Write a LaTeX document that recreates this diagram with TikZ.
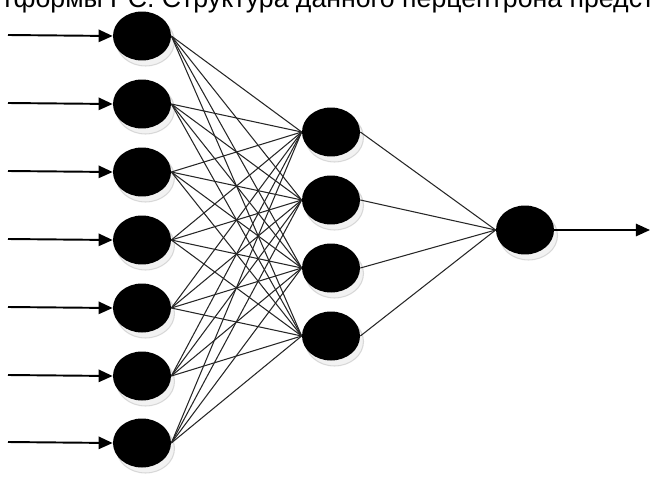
\documentclass[tikz,border=0pt]{standalone}
\usepackage{fontspec}
\setmainfont{Liberation Sans}
\usetikzlibrary{arrows.meta,shapes.geometric,shadows}

\begin{document}
\begin{tikzpicture}[x=0.02cm,y=-0.02cm,
    neuron/.style={ellipse, fill=black, minimum width=1.16cm, minimum height=0.98cm, inner sep=0pt,
      drop shadow={shadow xshift=0.07cm, shadow yshift=-0.11cm, fill=gray!20, draw=gray!55, line width=0.6pt}},
    link/.style={draw=black!85, line width=0.6pt},
    feed/.style={-{Triangle[length=8pt,width=7pt]}, line width=1.1pt}]
    \useasboundingbox (0,0) rectangle (651,483);
    \clip (0,0) rectangle (651,483);
    \node[anchor=base west, inner sep=0pt, font=\fontsize{15.2pt}{18pt}\selectfont] (caption) at (1,8) {тформы РС. Структура данного перцептрона предст};
    % input layer
    \node[neuron] (i1) at (142,36) {};
    \node[neuron] (i2) at (142,104) {};
    \node[neuron] (i3) at (142,172) {};
    \node[neuron] (i4) at (142,240) {};
    \node[neuron] (i5) at (142,308) {};
    \node[neuron] (i6) at (142,376) {};
    \node[neuron] (i7) at (142,443) {};
    % hidden layer
    \node[neuron] (h1) at (331,132) {};
    \node[neuron] (h2) at (331,200) {};
    \node[neuron] (h3) at (331,268) {};
    \node[neuron] (h4) at (331,336) {};
    % output
    \node[neuron] (o) at (525,230) {};
    \coordinate (out) at (650,230);
    \foreach \i/\y in {1/35,2/103,3/171,4/239,5/307,6/375,7/442}{
      \coordinate (s\i) at (8,\y);
      \draw[feed] (s\i) -- (i\i.west);
    }
    \foreach \i in {1,...,7}
      \foreach \j in {1,...,4}
        \draw[link] (i\i.east) -- (h\j.west);
    \foreach \j in {1,...,4}
      \draw[link] (h\j.east) -- (o.west);
    \draw[feed] (o.east) -- (out);
\end{tikzpicture}
\end{document}
